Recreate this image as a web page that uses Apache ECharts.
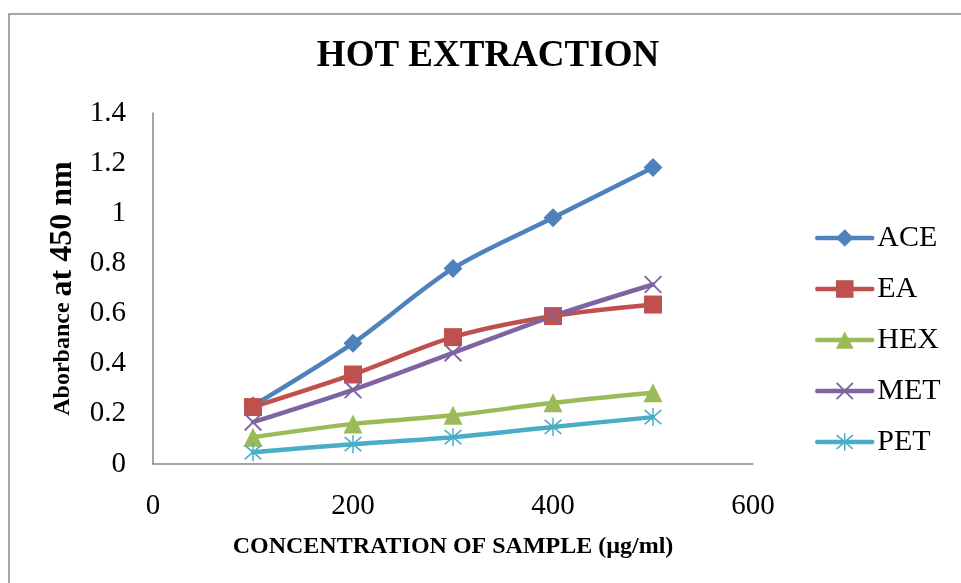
<!DOCTYPE html>
<html>
<head>
<meta charset="utf-8">
<title>HOT EXTRACTION</title>
<script src="https://cdn.jsdelivr.net/npm/echarts@6/dist/echarts.min.js"></script>
<style>
  html, body { margin: 0; padding: 0; background: #fff; }
  #chart { width: 961px; height: 583px; }
</style>
</head>
<body>
<div id="chart"></div>
<script>
// Concentrations (µg/ml) and absorbance at 450 nm for each solvent extract
const concentrations = [100, 200, 300, 400, 500];
const ace = [0.232, 0.482, 0.780, 0.982, 1.183];
const ea  = [0.227, 0.357, 0.506, 0.590, 0.636];
const hex = [0.107, 0.160, 0.194, 0.244, 0.284];
const met = [0.167, 0.296, 0.443, 0.590, 0.716];
const pet = [0.047, 0.079, 0.107, 0.148, 0.187];

const seriesNames = ['ACE', 'EA', 'HEX', 'MET', 'PET'];
const seriesValues = [ace, ea, hex, met, pet];
const colors = ['#4F81BD', '#C0504D', '#9BBB59', '#8064A2', '#4BACC6'];

// Marker shapes: diamond, square, triangle, cross, asterisk
const crossPath = 'path://M0,1.5 L1.5,0 L20,18.5 L18.5,20 Z M18.5,0 L20,1.5 L1.5,20 L0,18.5 Z';
const starPath = 'path://M1.5,2.7 L2.7,1.5 L18.5,17.3 L17.3,18.5 Z M17.3,1.5 L18.5,2.7 L2.7,18.5 L1.5,17.3 Z M9.3,0 L10.7,0 L10.7,20 L9.3,20 Z';
const symbols = ['diamond', 'rect', 'triangle', crossPath, starPath];
const symbolSizes = [19, 18, 19, 18, 18];

const serif = '"Liberation Serif", "Times New Roman", serif';
const LINE_W = 4.5;

const chart = echarts.init(document.getElementById('chart'));

const series = seriesNames.map((name, i) => ({
  name: name,
  type: 'line',
  smooth: 0.3,
  data: concentrations.map((c, j) => [c, seriesValues[i][j]]),
  symbol: symbols[i],
  symbolSize: symbolSizes[i],
  lineStyle: { width: LINE_W, color: colors[i], cap: 'round' },
  itemStyle: { color: colors[i], borderWidth: 0 },
  emphasis: { disabled: true },
  animation: false
}));

chart.setOption({
  backgroundColor: '#ffffff',
  color: colors,
  animation: false,
  grid: { left: 153, right: 208, top: 113, bottom: 119, containLabel: false },
  graphic: [
    {
      type: 'rect',
      shape: { x: 9, y: 14, width: 1000, height: 620 },
      style: { fill: 'none', stroke: '#8a8a8a', lineWidth: 1.5 },
      silent: true
    },
    {
      type: 'text',
      x: 488,
      y: 56,
      style: {
        text: 'HOT EXTRACTION',
        font: 'bold 37px ' + serif,
        fill: '#000',
        align: 'center',
        verticalAlign: 'middle'
      }
    }
  ],
  legend: {
    orient: 'vertical',
    left: 810,
    top: 218,
    itemWidth: 55,
    itemHeight: 22,
    itemGap: 21,
    lineStyle: { width: LINE_W },
    textStyle: { fontFamily: serif, fontSize: 30, color: '#000', lineHeight: 30 },
    data: seriesNames
  },
  xAxis: {
    type: 'value',
    min: 0,
    max: 600,
    interval: 200,
    axisLine: { show: true, lineStyle: { color: '#868686', width: 1.5 } },
    axisTick: { show: false },
    splitLine: { show: false },
    axisLabel: { fontFamily: serif, fontSize: 29, color: '#000', margin: 28 },
    name: 'CONCENTRATION OF SAMPLE (µg/ml)',
    nameLocation: 'middle',
    nameGap: 71,
    nameTextStyle: { fontFamily: serif, fontSize: 24, fontWeight: 'bold', color: '#000' }
  },
  yAxis: {
    type: 'value',
    min: 0,
    max: 1.4,
    interval: 0.2,
    axisLine: { show: true, lineStyle: { color: '#868686', width: 1.5 } },
    axisTick: { show: false },
    splitLine: { show: false },
    axisLabel: { fontFamily: serif, fontSize: 29, color: '#000', margin: 27 },
    name: '{s|Aborbance }{b|at 450 nm}',
    nameLocation: 'middle',
    nameGap: 74,
    nameRotate: 90,
    nameTextStyle: {
      fontFamily: serif,
      fontWeight: 'bold',
      color: '#000',
      rich: {
        s: { fontFamily: serif, fontWeight: 'bold', fontSize: 24, color: '#000' },
        b: { fontFamily: serif, fontWeight: 'bold', fontSize: 32, color: '#000' }
      }
    }
  },
  series: series
});
</script>
</body>
</html>
